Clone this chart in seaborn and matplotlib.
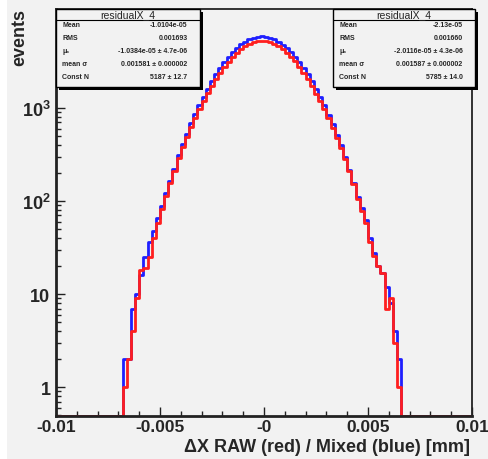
import numpy as np
import pandas as pd
import matplotlib.pyplot as plt
from matplotlib.patches import Rectangle
from matplotlib.ticker import FixedLocator, FixedFormatter, LogLocator, MultipleLocator, NullFormatter
import seaborn as sns

sns.set_theme(style='ticks')
plt.rcParams['font.family'] = ['Liberation Sans', 'DejaVu Sans']
plt.rcParams['mathtext.fontset'] = 'custom'
plt.rcParams['mathtext.rm'] = 'Liberation Sans'
plt.rcParams['mathtext.bf'] = 'Liberation Sans:bold'

# Binning: 100 bins of 0.0002 mm on [-0.01, 0.01], filled bins start at -0.0068
bin_lo, bin_hi, n_bins = -0.01, 0.01, 100
first_bin = 16

# Counts per filled bin
mixed_counts = [2, 2, 7, 10, 16, 25, 36, 48, 66, 88, 122, 165, 222, 309, 412, 527,
                684, 853, 1079, 1318, 1621, 1936, 2315, 2694, 3128, 3547, 4001,
                4412, 4830, 5175, 5490, 5702, 5858, 5895, 5846, 5715, 5476, 5188,
                4816, 4428, 3986, 3561, 3113, 2707, 2299, 1948, 1607, 1320, 1066,
                852, 668, 518, 396, 298, 218, 158, 112, 85, 62, 40, 28, 20, 17,
                12, 8, 4, 2]
raw_counts = [1, 2, 4, 9, 18, 19, 25, 40, 58, 82, 114, 155, 208, 292, 386, 488,
              630, 778, 976, 1187, 1448, 1725, 2061, 2398, 2782, 3158, 3563,
              3925, 4298, 4608, 4882, 5076, 5211, 5248, 5204, 5085, 4876, 4615,
              4289, 3939, 3549, 3168, 2772, 2408, 2047, 1735, 1432, 1190, 968,
              779, 615, 481, 372, 284, 209, 151, 105, 78, 58, 36, 26, 20, 17,
              7, 9, 3, 1]

x_ticks = [-0.01, -0.005, 0.0, 0.005, 0.01]
x_labels = ['-0.01', '-0.005', '-0', '0.005', '0.01']
y_ticks = [1, 10, 100, 1000]
y_labels = ['1', '10', r'$\mathbf{10^{2}}$', r'$\mathbf{10^{3}}$']
y_range = (0.49, 11600)

stats_left = [('Mean', '-1.0104e-05'), ('RMS', '0.001693'),
              ('\u03bc\u2093', '-1.0384e-05 \u00b1 4.7e-06'),
              ('mean \u03c3', '0.001581 \u00b1 0.000002'), ('Const N', '5187 \u00b1 12.7')]
stats_right = [('Mean', '-2.13e-05'), ('RMS', '0.001660'),
               ('\u03bc\u2093', '-2.0116e-05 \u00b1 4.3e-06'),
               ('mean \u03c3', '0.001587 \u00b1 0.000002'), ('Const N', '5785 \u00b1 14.0')]

bg = '#f2f2f2'
edges = np.linspace(bin_lo, bin_hi, n_bins + 1)
centers = (edges[:-1] + edges[1:]) / 2


def padded(counts):
    full = np.zeros(n_bins)
    full[first_bin:first_bin + len(counts)] = counts
    # empty bins sit on the bottom of the log axis, like ROOT draws them
    return np.where(full > 0, full, y_range[0])


df = pd.DataFrame({'x': centers, 'mixed': padded(mixed_counts), 'raw': padded(raw_counts)})

fig = plt.figure(figsize=(4.89, 4.60), dpi=100, facecolor=bg)
fig.patches.append(Rectangle((0, 0), 7 / 489, 1, transform=fig.transFigure,
                             facecolor='white', edgecolor='none', zorder=-1))
ax = fig.add_axes([56 / 489, 43 / 460, 416 / 489, 407 / 460])
ax.set_facecolor(bg)

sns.histplot(data=df, x='x', weights='mixed', bins=edges.tolist(), element='step', fill=False,
             color='#1f1fff', lw=2.0, ax=ax)
sns.histplot(data=df, x='x', weights='raw', bins=edges.tolist(), element='step', fill=False,
             color='#ff1f1f', lw=2.0, ax=ax)

ax.set_yscale('log')
ax.set_xlim(bin_lo, bin_hi)
ax.set_ylim(*y_range)
ax.set_xlabel('')
ax.set_ylabel('')

ax.xaxis.set_major_locator(FixedLocator(x_ticks))
ax.xaxis.set_major_formatter(FixedFormatter(x_labels))
ax.xaxis.set_minor_locator(MultipleLocator(0.001))
ax.yaxis.set_major_locator(FixedLocator(y_ticks))
ax.yaxis.set_major_formatter(FixedFormatter(y_labels))
ax.yaxis.set_minor_locator(LogLocator(base=10, subs=np.arange(2, 10)))
ax.yaxis.set_minor_formatter(NullFormatter())
ax.tick_params(which='both', direction='in', color='#222222', width=1.0)
ax.tick_params(which='major', length=6.5, pad=2)
ax.tick_params(which='minor', length=3.5)
ax.tick_params(axis='x', labelsize=12.5)
ax.tick_params(axis='y', labelsize=13, pad=4)
for lab in ax.get_xticklabels() + ax.get_yticklabels():
    lab.set_fontweight('bold')

for side in ['left', 'bottom']:
    ax.spines[side].set_linewidth(2.0)
for side in ['top', 'right']:
    ax.spines[side].set_linewidth(1.3)
for sp in ax.spines.values():
    sp.set_color('#222222')


def stat_box(x0, x1, title, rows):
    y0, y1 = 0.808, 1.0
    ax.add_patch(Rectangle((x0 + 0.008, y0 - 0.008), x1 - x0, y1 - y0, transform=ax.transAxes,
                           facecolor='black', edgecolor='none', clip_on=False, zorder=5))
    ax.add_patch(Rectangle((x0, y0), x1 - x0, y1 - y0, transform=ax.transAxes,
                           facecolor=bg, edgecolor='black', lw=1.0, clip_on=False, zorder=6))
    ax.plot([x0, x1], [0.973, 0.973], transform=ax.transAxes, color='black', lw=0.8,
            clip_on=False, zorder=7)
    ax.text((x0 + x1) / 2, 0.987, title, transform=ax.transAxes, ha='center', va='center',
            fontsize=7.5, zorder=8)
    for i, (lab, val) in enumerate(rows):
        yy = 0.961 - i * 0.032
        ax.text(x0 + 0.015, yy, lab, transform=ax.transAxes, ha='left', va='center',
                fontsize=5, fontweight='bold', zorder=8)
        ax.text(x1 - 0.03, yy, val, transform=ax.transAxes, ha='right', va='center',
                fontsize=5, fontweight='bold', zorder=8)


stat_box(0.0, 0.346, 'residualX_4', stats_left)
stat_box(0.666, 1.007, 'residualX_4', stats_right)

fig.text(20 / 489, 1 - 9 / 460, 'events', rotation=90, ha='center', va='top',
         fontsize=13, fontweight='bold')
fig.text(470 / 489, 1 - 448 / 460, '\u0394X RAW (red) / Mixed (blue) [mm]', ha='right',
         va='center', fontsize=13, fontweight='bold')

fig.savefig('out.png', dpi=100, facecolor=bg)
